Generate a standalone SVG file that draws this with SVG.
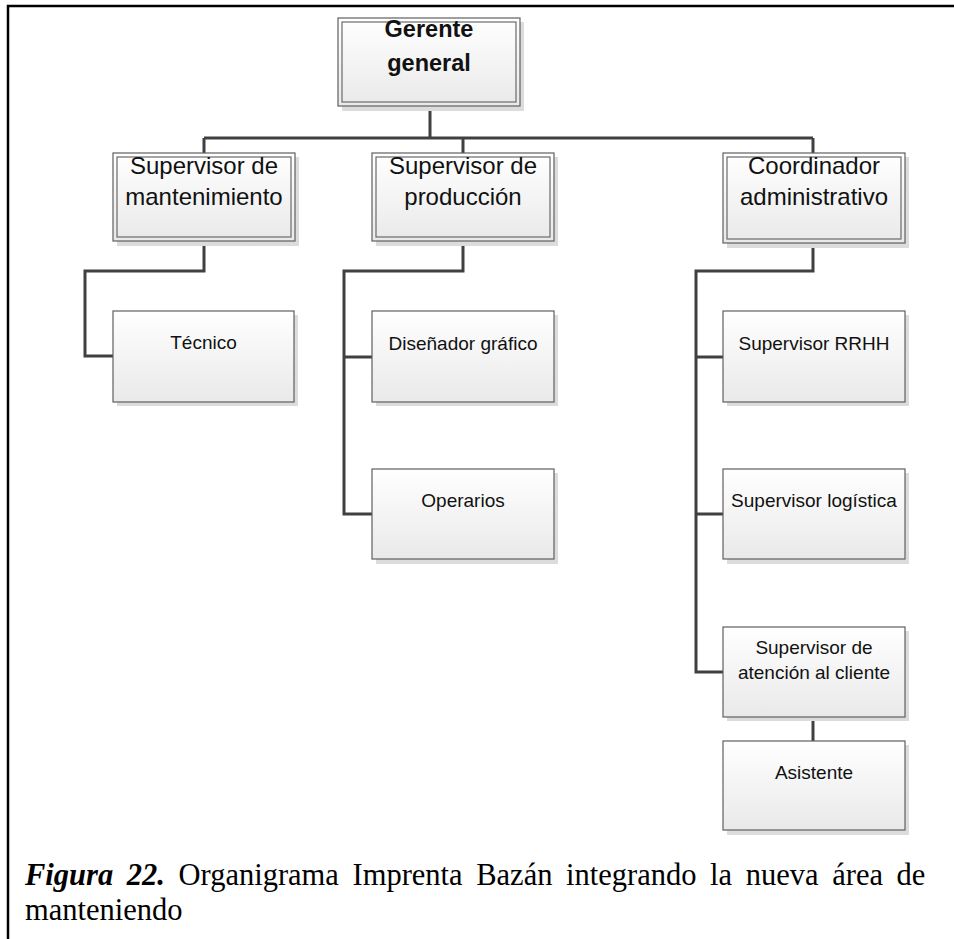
<svg xmlns="http://www.w3.org/2000/svg" width="954" height="939" viewBox="0 0 954 939">
<defs>
<linearGradient id="g" x1="0" y1="0" x2="0" y2="1">
<stop offset="0" stop-color="#ffffff"/>
<stop offset="1" stop-color="#e9e9e9"/>
</linearGradient>
<style>
.sh{fill:#dcdcdc;}
.bx{fill:url(#g);stroke:#5f5f5f;stroke-width:1.2;}
.in{fill:none;stroke:#6a6a6a;stroke-width:1.2;}
.t{font-family:"Liberation Sans",Arial,sans-serif;font-size:19px;fill:#111;text-anchor:middle;}
.tl{font-family:"Liberation Sans",Arial,sans-serif;font-size:24px;fill:#111;text-anchor:middle;}
.tb{font-family:"Liberation Sans",Arial,sans-serif;font-size:23.5px;font-weight:bold;fill:#111;text-anchor:middle;}
.c{fill:none;stroke:#404040;stroke-width:3;}
.cap{font-family:"Liberation Serif","Times New Roman",serif;font-size:30.5px;fill:#000;}
</style>
</defs>
<rect width="954" height="939" fill="#fff"/>
<path d="M8 939 V6 H954" fill="none" stroke="#000" stroke-width="2.5"/>

<g id="connectors">
<path class="c" d="M430 106 V138 M204 138 H813 M204 138 V153 M463 138 V153 M813 138 V153"/>
<path class="c" d="M204 241 V271 H85 V356 H113"/>
<path class="c" d="M463 241 V271 H344 V514 H372 M344 357 H372"/>
<path class="c" d="M813 243 V271 H696 V672 H723 M696 357 H723 M696 514 H723"/>
<path class="c" d="M813 717 V741"/>
</g>

<g id="gerente">
<rect class="sh" x="342" y="22" width="182" height="89"/>
<rect class="bx" x="338" y="18" width="182" height="88"/>
<rect class="in" x="342" y="22" width="174" height="80"/>
<text class="tb" x="429" y="37">Gerente</text>
<text class="tb" x="429" y="71">general</text>
</g>

<g id="sup-mantenimiento">
<rect class="sh" x="117" y="157" width="182" height="89"/>
<rect class="bx" x="113" y="153" width="182" height="88"/>
<rect class="in" x="117" y="157" width="174" height="80"/>
<text class="tl" x="204" y="174">Supervisor de</text>
<text class="tl" x="204" y="205">mantenimiento</text>
</g>

<g id="sup-produccion">
<rect class="sh" x="376" y="157" width="182" height="89"/>
<rect class="bx" x="372" y="153" width="182" height="88"/>
<rect class="in" x="376" y="157" width="174" height="80"/>
<text class="tl" x="463" y="174">Supervisor de</text>
<text class="tl" x="463" y="205">producción</text>
</g>

<g id="coordinador">
<rect class="sh" x="727" y="157" width="182" height="91"/>
<rect class="bx" x="723" y="153" width="182" height="90"/>
<rect class="in" x="727" y="157" width="174" height="82"/>
<text class="tl" x="814" y="174">Coordinador</text>
<text class="tl" x="814" y="205">administrativo</text>
</g>

<g id="tecnico">
<rect class="sh" x="117" y="315" width="181" height="91"/>
<rect class="bx" x="113" y="311" width="181" height="91"/>
<text class="t" x="203.5" y="349">Técnico</text>
</g>

<g id="disenador">
<rect class="sh" x="376" y="315" width="182" height="91"/>
<rect class="bx" x="372" y="311" width="182" height="91"/>
<text class="t" x="463" y="350">Diseñador gráfico</text>
</g>

<g id="operarios">
<rect class="sh" x="376" y="473" width="182" height="91"/>
<rect class="bx" x="372" y="469" width="182" height="90"/>
<text class="t" x="463" y="507">Operarios</text>
</g>

<g id="rrhh">
<rect class="sh" x="727" y="315" width="182" height="91"/>
<rect class="bx" x="723" y="311" width="182" height="91"/>
<text class="t" x="814" y="350">Supervisor RRHH</text>
</g>

<g id="logistica">
<rect class="sh" x="727" y="473" width="182" height="91"/>
<rect class="bx" x="723" y="469" width="182" height="90"/>
<text class="t" x="814" y="507">Supervisor logística</text>
</g>

<g id="atencion">
<rect class="sh" x="727" y="631" width="182" height="90"/>
<rect class="bx" x="723" y="627" width="182" height="90"/>
<text class="t" x="814" y="654">Supervisor de</text>
<text class="t" x="814" y="679">atención al cliente</text>
</g>

<g id="asistente">
<rect class="sh" x="727" y="745" width="182" height="90"/>
<rect class="bx" x="723" y="741" width="182" height="89"/>
<text class="t" x="814" y="779">Asistente</text>
</g>

<g id="caption">
<text class="cap" x="25" y="885" word-spacing="6"><tspan font-weight="bold" font-style="italic">Figura 22.</tspan> Organigrama Imprenta Bazán integrando la nueva área de</text>
<text class="cap" x="25" y="920">manteniendo</text>
</g>
</svg>
